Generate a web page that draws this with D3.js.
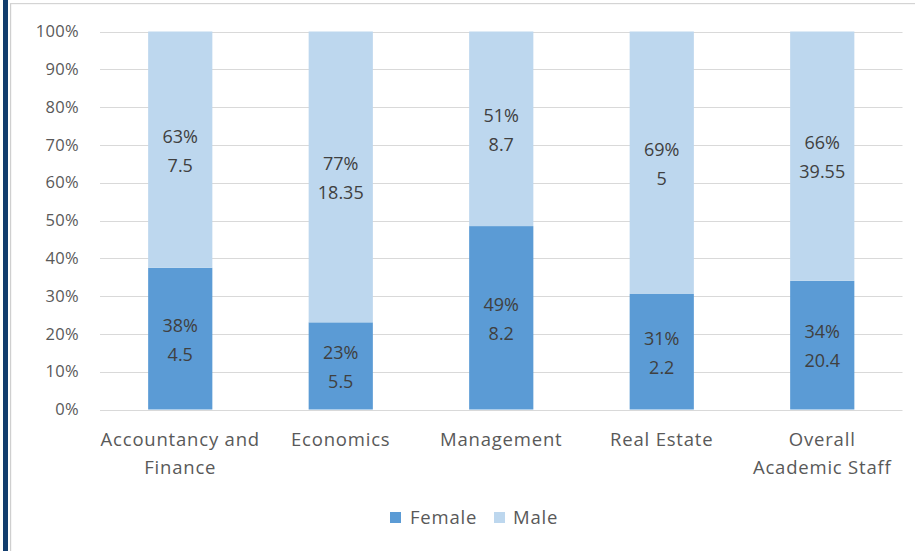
<!DOCTYPE html>
<html>
<head>
<meta charset="utf-8">
<script src="https://cdn.jsdelivr.net/npm/d3@7"></script>
<style>
  html, body { margin: 0; padding: 0; background: #fff; }
  svg { display: block; font-family: "Open Sans", "Liberation Sans", sans-serif; }
</style>
</head>
<body>
<svg id="chart" width="915" height="551"></svg>
<script>
// Academic staff by department, split by gender (headcount)
const categories = [
  ["Accountancy and", "Finance"],
  ["Economics"],
  ["Management"],
  ["Real Estate"],
  ["Overall", "Academic Staff"]
];
const femaleValues = [4.5, 5.5, 8.2, 2.2, 20.4];
const maleValues = [7.5, 18.35, 8.7, 5, 39.55];
const seriesNames = ["Female", "Male"];
const seriesColors = ["#5B9BD5", "#BDD7EE"];
const yTicks = [0, 0.1, 0.2, 0.3, 0.4, 0.5, 0.6, 0.7, 0.8, 0.9, 1];

const svg = d3.select("#chart");

// Page frame: navy rule on the left, thin grey edges
svg.append("rect").attr("x", 3).attr("y", 0).attr("width", 5).attr("height", 551).attr("fill", "#123d6e");
svg.append("rect").attr("x", 10).attr("y", 3).attr("width", 1.2).attr("height", 548).attr("fill", "#cfcfcf");
svg.append("rect").attr("x", 10).attr("y", 3).attr("width", 905).attr("height", 1.2).attr("fill", "#d4d4d4");

const keys = categories.map(c => c.join(" "));
const rows = keys.map((k, i) => ({ key: k, Female: femaleValues[i], Male: maleValues[i] }));

const x = d3.scaleBand().domain(keys).range([100, 902.5]).paddingInner(0.6).paddingOuter(0.3);
const y = d3.scaleLinear().domain([0, 1]).range([409.5, 31.5]);

// 100% stacked layout
const stack = d3.stack().keys(seriesNames).offset(d3.stackOffsetExpand);
const layers = stack(rows);

// Gridlines
svg.append("g")
  .selectAll("line")
  .data(yTicks)
  .join("line")
  .attr("x1", 100).attr("x2", 902.5)
  .attr("y1", d => Math.round(y(d)) + 0.5).attr("y2", d => Math.round(y(d)) + 0.5)
  .attr("stroke", "#d9d9d9").attr("stroke-width", 1);

// Y axis labels
const yAxis = d3.axisLeft(y).tickValues(yTicks).tickFormat(d3.format(".0%")).tickSize(0).tickPadding(0);
const yg = svg.append("g").attr("transform", "translate(79,0)").call(yAxis);
yg.select(".domain").remove();
yg.selectAll("text")
  .attr("fill", "#595959")
  .attr("font-size", "16.5px")
  .attr("letter-spacing", "0.3px")
  .attr("font-family", "'Open Sans', sans-serif");

// Bars
const layerG = svg.append("g")
  .selectAll("g")
  .data(layers)
  .join("g")
  .attr("fill", (d, i) => seriesColors[i]);

layerG.selectAll("rect")
  .data(d => d)
  .join("rect")
  .attr("x", d => x(d.data.key))
  .attr("width", x.bandwidth())
  .attr("y", d => y(d[1]))
  .attr("height", d => y(d[0]) - y(d[1]));

// Data labels: share of the column and the raw headcount
const labelG = svg.append("g")
  .attr("fill", "#404040")
  .attr("font-size", "18px")
  .attr("text-anchor", "middle");

layers.forEach(layer => {
  layer.forEach(d => {
    const cx = x(d.data.key) + x.bandwidth() / 2;
    const cy = (y(d[0]) + y(d[1])) / 2;
    const pct = Math.round((d[1] - d[0]) * 100) + "%";
    const raw = d.data[layer.key];
    const t = labelG.append("text").attr("x", cx).attr("y", cy);
    t.append("tspan").attr("x", cx).attr("dy", "-7").text(pct);
    t.append("tspan").attr("x", cx).attr("dy", "29").text(raw);
  });
});

// Category labels (wrapped)
const catG = svg.append("g")
  .attr("fill", "#595959")
  .attr("font-size", "18.5px")
  .attr("letter-spacing", "0.8px")
  .attr("text-anchor", "middle");

categories.forEach((lines, i) => {
  const cx = x(keys[i]) + x.bandwidth() / 2;
  lines.forEach((ln, j) => {
    catG.append("text").attr("x", cx).attr("y", 446 + j * 28).text(ln);
  });
});

// Legend
const legendItems = [
  { name: seriesNames[0], color: seriesColors[0], sx: 390, tx: 410 },
  { name: seriesNames[1], color: seriesColors[1], sx: 494, tx: 513 }
];
const lg = svg.append("g");
legendItems.forEach(it => {
  lg.append("rect").attr("x", it.sx).attr("y", 512).attr("width", 11).attr("height", 11).attr("fill", it.color);
  lg.append("text").attr("x", it.tx).attr("y", 524)
    .attr("fill", "#595959").attr("font-size", "18.5px").attr("letter-spacing", "0.8px").text(it.name);
});
</script>
</body>
</html>
